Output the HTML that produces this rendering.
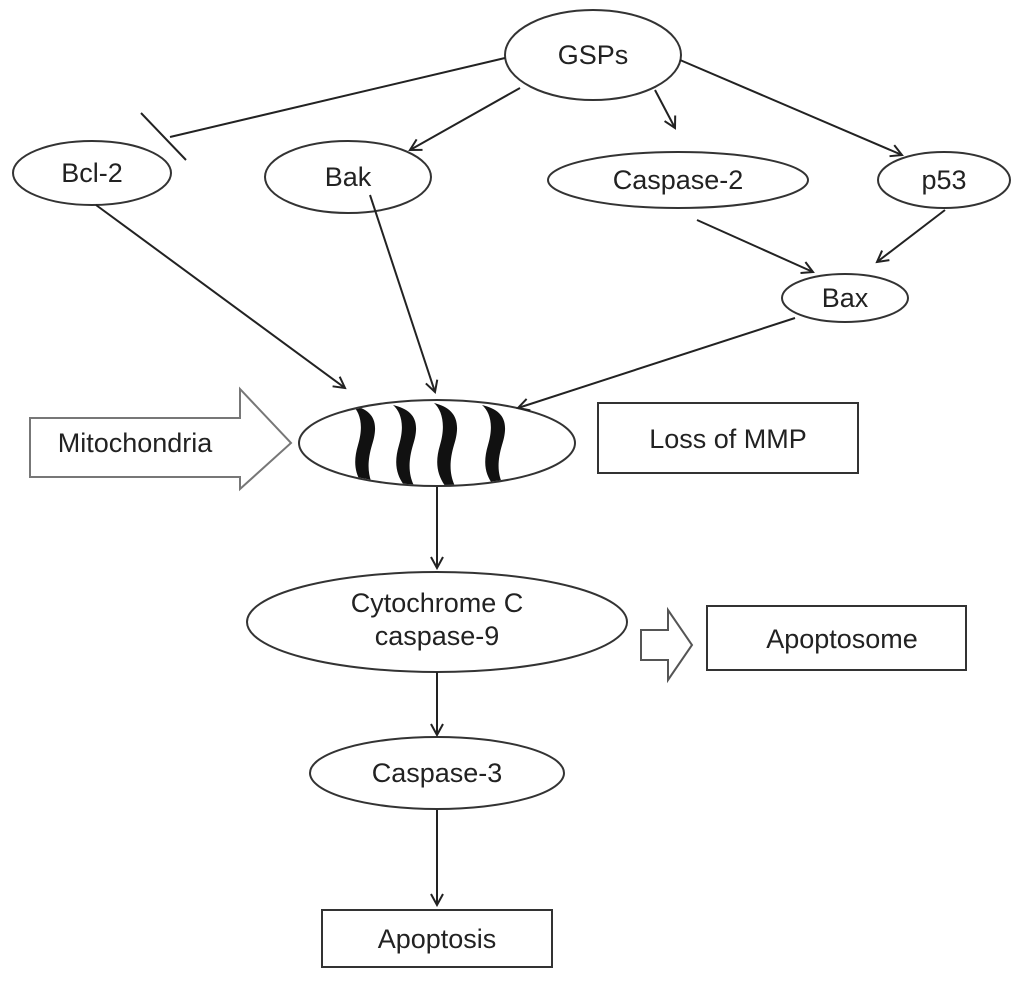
<!DOCTYPE html>
<html><head><style>body{margin:0;background:#fff}svg{display:block}text{font-family:"Liberation Sans",sans-serif;font-size:27px;fill:#222;text-anchor:middle}</style></head><body>
<svg width="1028" height="988" viewBox="0 0 1028 988">
<defs><marker id="a" markerWidth="14" markerHeight="14" refX="12" refY="7" orient="auto" markerUnits="userSpaceOnUse"><path d="M1,1 L12,7 L1,13" fill="none" stroke="#222" stroke-width="2"/></marker>
<clipPath id="c"><ellipse cx="437" cy="443" rx="137" ry="42"/></clipPath></defs>
<g fill="none" stroke="#333" stroke-width="2">
<ellipse cx="593" cy="55" rx="88" ry="45"/>
<ellipse cx="92" cy="173" rx="79" ry="32"/>
<ellipse cx="348" cy="177" rx="83" ry="36"/>
<ellipse cx="678" cy="180" rx="130" ry="28"/>
<ellipse cx="944" cy="180" rx="66" ry="28"/>
<ellipse cx="845" cy="298" rx="63" ry="24"/>
<ellipse cx="437" cy="622" rx="190" ry="50"/>
<ellipse cx="437" cy="773" rx="127" ry="36"/>
<rect x="598" y="403" width="260" height="70"/>
<rect x="707" y="606" width="259" height="64"/>
<rect x="322" y="910" width="230" height="57"/>
<path d="M30,418 H240 V389 L291,443 L240,489 V477 H30 Z" stroke="#777"/>
<path d="M641,630 H668 V610 L692,645 L668,680 V660 H641 Z" stroke="#555"/>
</g>
<g fill="#111" clip-path="url(#c)">
<path d="M352,405 C372,410 380,420 372,445 C366,465 368,480 377,492 L367,490 C356,478 352,465 358,445 C364,425 360,412 352,405 Z"/>
<path d="M393,405 C413,410 421,420 413,445 C407,465 409,480 418,492 L408,490 C397,478 393,465 399,445 C405,425 401,412 393,405 Z"/>
<path d="M434,403 C454,408 462,420 454,445 C448,465 450,480 459,493 L449,491 C438,478 434,465 440,445 C446,425 442,410 434,403 Z"/>
<path d="M482,405 C502,410 510,420 502,445 C496,465 498,480 507,490 L497,489 C486,478 482,465 488,445 C494,425 490,412 482,405 Z"/>
</g>
<ellipse cx="437" cy="443" rx="138" ry="43" fill="none" stroke="#333" stroke-width="2"/>
<g stroke="#222" stroke-width="2" fill="none" marker-end="url(#a)">
<path d="M520,88 L410,150"/>
<path d="M655,90 L675,128"/>
<path d="M680,60 L902,155"/>
<path d="M96,205 L345,388"/>
<path d="M370,195 L435,392"/>
<path d="M697,220 L813,272"/>
<path d="M945,210 L877,262"/>
<path d="M795,318 L518,408"/>
<path d="M437,487 L437,568"/>
<path d="M437,672 L437,735"/>
<path d="M437,810 L437,905"/>
</g>
<g stroke="#222" stroke-width="2"><path d="M505,58 L170,137"/><path d="M141,113 L186,160"/></g>
<text x="593" y="64">GSPs</text>
<text x="92" y="182">Bcl-2</text>
<text x="348" y="186">Bak</text>
<text x="678" y="189">Caspase-2</text>
<text x="944" y="189">p53</text>
<text x="845" y="307">Bax</text>
<text x="135" y="452">Mitochondria</text>
<text x="728" y="448">Loss of MMP</text>
<text x="437" y="612">Cytochrome C</text>
<text x="437" y="645">caspase-9</text>
<text x="842" y="648">Apoptosome</text>
<text x="437" y="782">Caspase-3</text>
<text x="437" y="948">Apoptosis</text>
</svg>
</body></html>
